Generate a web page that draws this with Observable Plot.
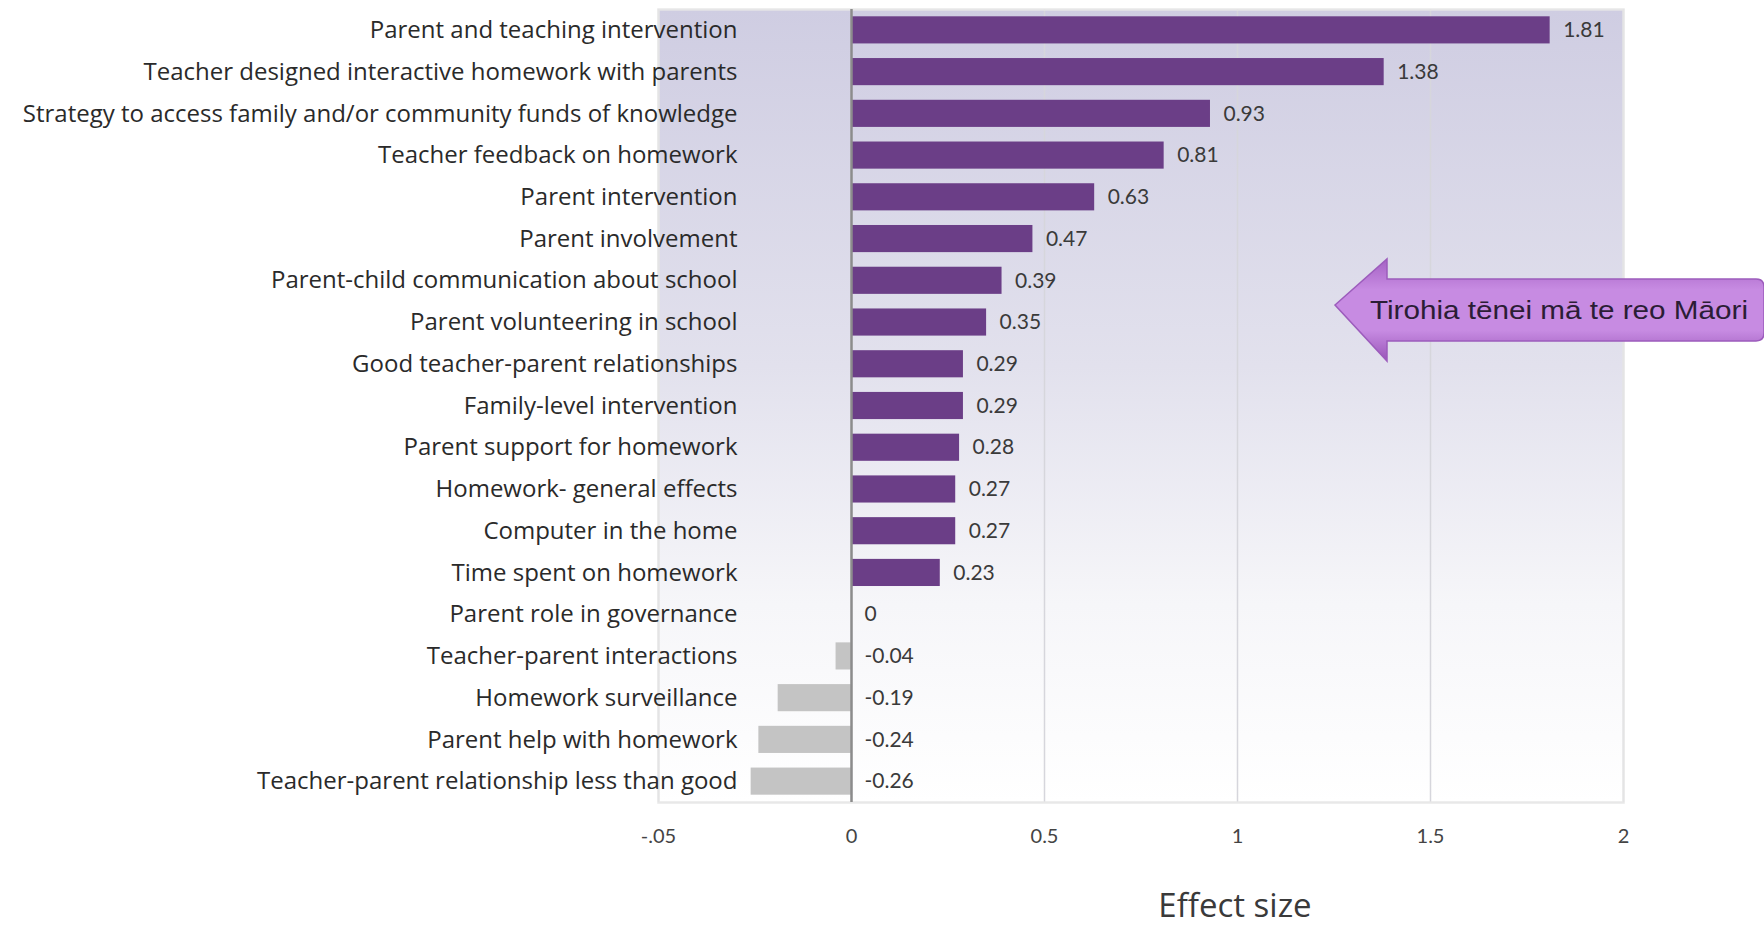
<!DOCTYPE html>
<html>
<head>
<meta charset="utf-8">
<script src="https://cdn.jsdelivr.net/npm/d3@7"></script>
<script src="https://cdn.jsdelivr.net/npm/@observablehq/plot@0.6"></script>
<style>
  html, body { margin: 0; padding: 0; background: #ffffff; }
  #wrap { position: relative; width: 1764px; height: 930px; overflow: hidden; }
  #arrow { position: absolute; left: 1330px; top: 255px; }
</style>
</head>
<body>
<svg width="0" height="0" style="position:absolute">
  <defs>
    <linearGradient id="bggrad" x1="0" y1="0" x2="0" y2="1">
      <stop offset="0" stop-color="#cfcde2"/>
      <stop offset="0.45" stop-color="#e2e1ed"/>
      <stop offset="0.75" stop-color="#f6f6f9"/>
      <stop offset="1" stop-color="#ffffff"/>
    </linearGradient>
    <linearGradient id="arrowgrad" x1="0" y1="0" x2="0" y2="1">
      <stop offset="0" stop-color="#a562c4"/>
      <stop offset="0.3" stop-color="#c78be2"/>
      <stop offset="0.7" stop-color="#c78be2"/>
      <stop offset="1" stop-color="#9955b8"/>
    </linearGradient>
  </defs>
</svg>
<div id="wrap">
  <div id="chart"></div>
  <svg id="arrow" width="434" height="112">
    <path d="M5,50 L57,4 L57,24 L426,24 Q434,24 434,32 L434,78 Q434,86 426,86 L57,86 L57,106 Z"
          fill="url(#arrowgrad)" stroke="#9c5cbc" stroke-width="1.5"/>
    <text x="40" y="64" font-family="Liberation Sans, Arial, sans-serif" font-size="26" textLength="378" lengthAdjust="spacingAndGlyphs" fill="#2b1d35">Tirohia tēnei mā te reo Māori</text>
  </svg>
</div>
<script>
const categories = [
  "Parent and teaching intervention",
  "Teacher designed interactive homework with parents",
  "Strategy to access family and/or community funds of knowledge",
  "Teacher feedback on homework",
  "Parent intervention",
  "Parent involvement",
  "Parent-child communication about school",
  "Parent volunteering in school",
  "Good teacher-parent relationships",
  "Family-level intervention",
  "Parent support for homework",
  "Homework- general effects",
  "Computer in the home",
  "Time spent on homework",
  "Parent role in governance",
  "Teacher-parent interactions",
  "Homework surveillance",
  "Parent help with homework",
  "Teacher-parent relationship less than good"
];
const effectSizes = [1.81, 1.38, 0.93, 0.81, 0.63, 0.47, 0.39, 0.35, 0.29, 0.29, 0.28, 0.27, 0.27, 0.23, 0, -0.04, -0.19, -0.24, -0.26];
const xTicks = [-0.5, 0, 0.5, 1, 1.5, 2];
const xTickLabels = ["-.05", "0", "0.5", "1", "1.5", "2"];
const xTitle = "Effect size";

const data = categories.map((c, i) => ({label: c, value: effectSizes[i]}));
const tickLabelMap = new Map(xTicks.map((t, i) => [t, xTickLabels[i]]));
const fmt = v => v === 0 ? "0" : v.toFixed(2);

const purple = "#6b3e87";
const gray = "#c4c4c4";

const chart = Plot.plot({
  width: 1764,
  height: 930,
  marginTop: 9,
  marginBottom: 128,
  marginLeft: 658,
  marginRight: 141,
  style: {background: "transparent", fontFamily: "'Open Sans', sans-serif", color: "#333"},
  x: {domain: [-0.5, 2], label: null},
  y: {domain: categories, paddingInner: 0.35, paddingOuter: 0.175, round: false, label: null},
  marks: [
    Plot.frame({fill: "url(#bggrad)", stroke: null}),
    Plot.gridX(xTicks, {stroke: "#d6d6dc", strokeOpacity: 1, strokeWidth: 1.5}),
    Plot.frame({stroke: "#e6e6e6", strokeWidth: 2.5, strokeOpacity: 0.9}),
    Plot.barX(data, {x: "value", y: "label", fill: d => d.value > 0 ? purple : gray}),
    Plot.ruleX([0], {stroke: "#8c8c8c", strokeWidth: 2.5}),
    Plot.text(data, {
      x: d => Math.max(d.value, 0), y: "label", text: d => fmt(d.value),
      dx: 13, textAnchor: "start", fontSize: 21, fill: "#3a3a3a", fontFamily: "Lato, sans-serif"
    }),
    Plot.axisY({tickSize: 0, dx: 88, fontSize: 24, fill: "#2a2a2a", label: null}),
    Plot.axisX({
      ticks: xTicks, tickFormat: d => tickLabelMap.get(d), tickSize: 0, tickPadding: 26,
      fontSize: 20, fill: "#444", label: null, fontFamily: "Lato, sans-serif"
    }),
    Plot.text([xTitle], {
      frameAnchor: "bottom", dx: 94, dy: 104, lineAnchor: "middle",
      fontSize: 33, fill: "#3a3a3a", text: d => d
    })
  ]
});
document.getElementById("chart").appendChild(chart);
</script>
</body>
</html>
